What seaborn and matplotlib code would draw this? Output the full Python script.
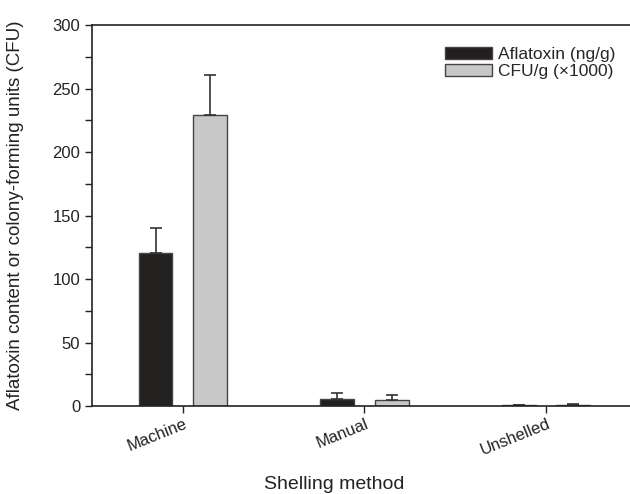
import numpy as np
import pandas as pd
import matplotlib
matplotlib.use("Agg")
import matplotlib.pyplot as plt
import matplotlib.transforms as mtransforms
import seaborn as sns
from matplotlib.ticker import MultipleLocator
from matplotlib.patches import Patch

#### Données
methodes = ["Machine", "Manual", "Unshelled"]
series = ["Aflatoxin (ng/g)", "CFU/g (\u00d71000)"]
aflatoxine = [120.5, 5.5, 0.6]
aflatoxine_err = [20, 5, 0.3]
cfu = [229, 4.5, 1.0]
cfu_err = [32, 4.5, 0.5]

couleurs = ["#231f20", "#c8c8c8"]

df = pd.DataFrame({
    "methode": methodes * 2,
    "serie": [series[0]] * 3 + [series[1]] * 3,
    "valeur": aflatoxine + cfu,
    "err": aflatoxine_err + cfu_err,
})

sns.set_style("ticks")
plt.rcParams['font.family'] = ['Liberation Sans', 'DejaVu Sans']

fig = plt.figure(figsize=(6.3, 4.94), dpi=100)
ax = fig.add_axes([0.146, 0.178, 0.865, 0.771])

sns.barplot(data=df, x="methode", y="valeur", hue="serie", palette=couleurs,
            width=0.6, gap=0.38, errorbar=None, edgecolor="#444444",
            linewidth=1.0, ax=ax, legend=False)

# Barres d'erreur (partie haute seulement)
for patch, e in zip(ax.patches, df["err"]):
    x = patch.get_x() + patch.get_width() / 2
    h = patch.get_height()
    ax.errorbar(x, h, yerr=[[0], [e]], fmt="none", ecolor="#333333",
                elinewidth=1.2, capsize=4, capthick=1.2)

ax.set_xlim(-0.5, 2.5)
ax.set_ylim(0, 300)
ax.yaxis.set_major_locator(MultipleLocator(50))
ax.yaxis.set_minor_locator(MultipleLocator(25))
ax.tick_params(axis="y", which="major", direction="out", length=5, width=1,
               labelsize=12, colors="#222222")
ax.tick_params(axis="y", which="minor", direction="out", length=5, width=1,
               colors="#222222")
ax.tick_params(axis="x", direction="out", length=5, width=1, labelsize=12,
               colors="#222222", pad=2)
decalage = mtransforms.ScaledTranslation(6 / 100, 0, fig.dpi_scale_trans)
for lab in ax.get_xticklabels():
    lab.set_rotation(22)
    lab.set_ha("right")
    lab.set_transform(lab.get_transform() + decalage)

for s in ["left", "bottom", "top"]:
    ax.spines[s].set_linewidth(1.2)
    ax.spines[s].set_color("#222222")
ax.spines["right"].set_visible(False)

ax.set_xlabel("Shelling method", fontsize=14, color="#222222")
ax.xaxis.set_label_coords(0.445, -0.183)
ax.set_ylabel("Aflatoxin content or colony-forming units (CFU)", fontsize=13.5,
              color="#222222")
ax.yaxis.set_label_coords(-0.125, 0.5)

handles = [Patch(facecolor=c, edgecolor="#444444", label=s)
           for c, s in zip(couleurs, series)]
ax.legend(handles=handles, loc="upper right", bbox_to_anchor=(0.99, 0.985),
          frameon=False, fontsize=12.5, handlelength=2.7, handleheight=0.75,
          handletextpad=0.4, labelspacing=0.1)

fig.savefig("out.png", dpi=100)
